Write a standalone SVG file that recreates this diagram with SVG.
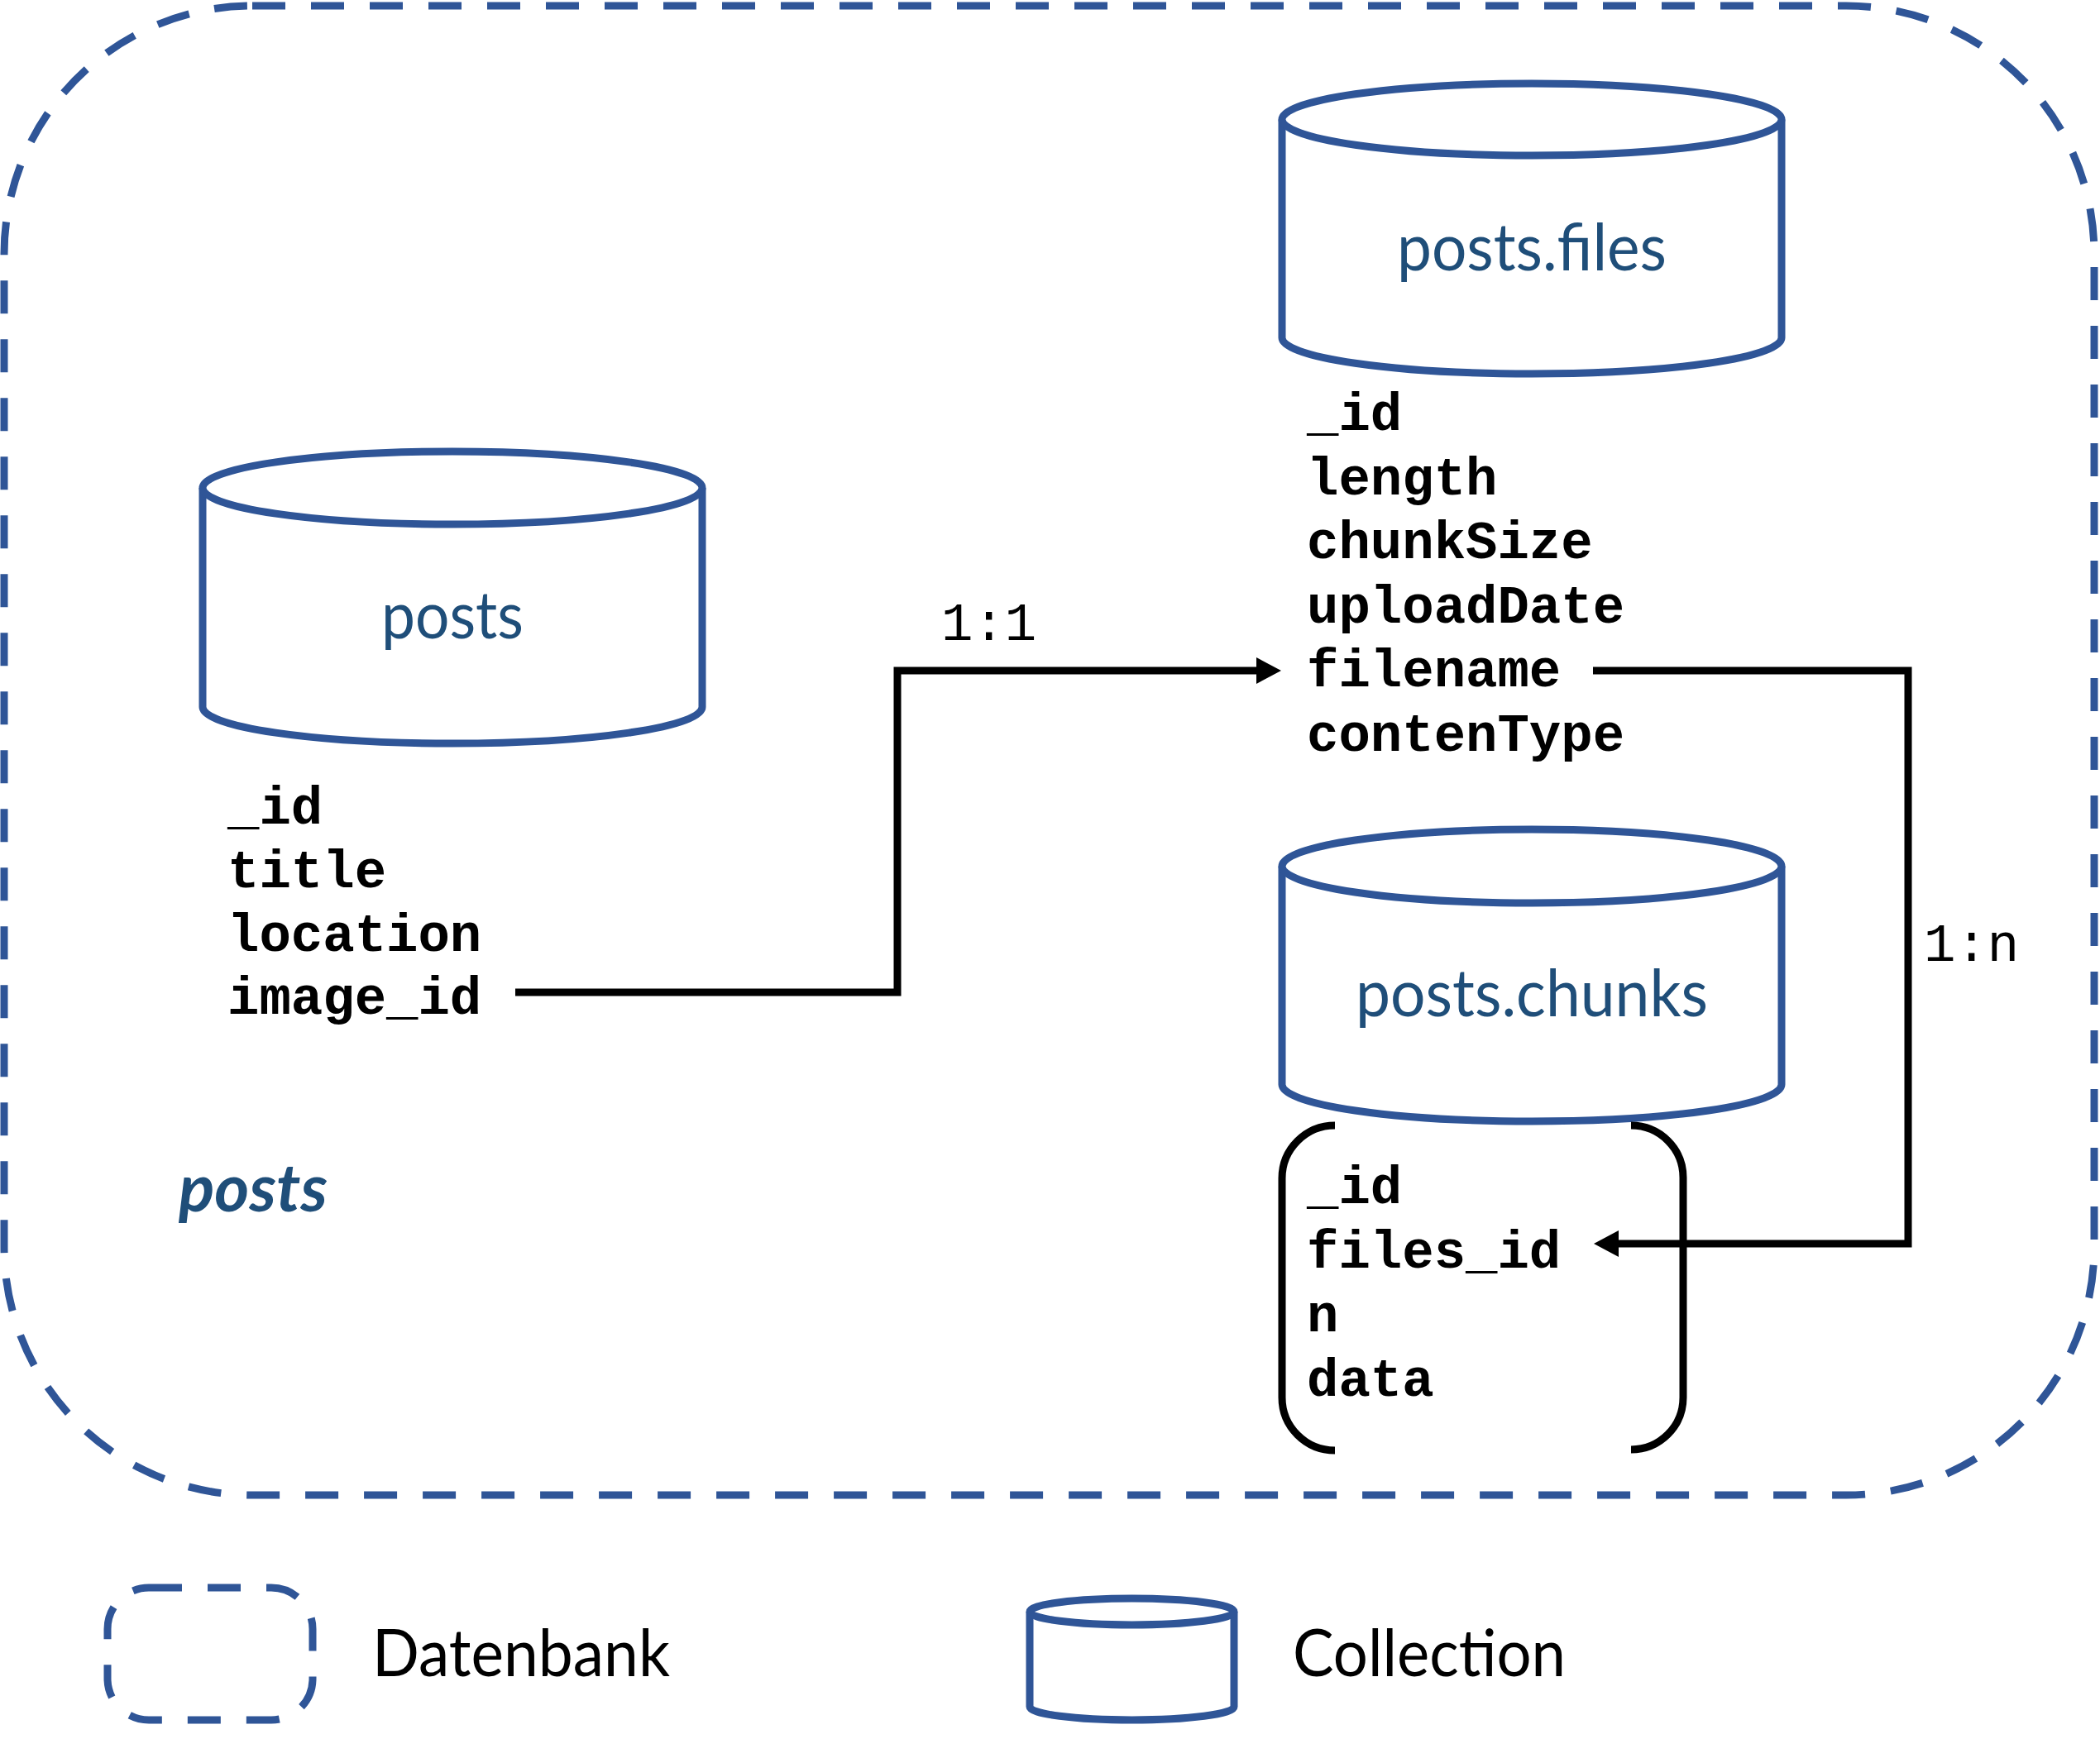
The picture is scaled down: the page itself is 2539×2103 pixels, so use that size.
<svg xmlns="http://www.w3.org/2000/svg" width="2539" height="2103" viewBox="0 0 2539 2103">
<style>
.db{fill:none;stroke:#2F5597;stroke-width:9;stroke-dasharray:40 31}
.cyl{fill:#FFFFFF;stroke:#2F5597;stroke-width:9}
.cname{font-family:Lato,"Open Sans","Liberation Sans",sans-serif;font-size:80px;fill:#1F4E79;text-anchor:middle}
.fld{font-family:"Liberation Mono","DejaVu Sans Mono",monospace;font-weight:bold;font-size:64px;fill:#000000}
.rel{font-family:"Liberation Mono","DejaVu Sans Mono",monospace;font-size:64px;fill:#000000}
.conn{fill:none;stroke:#000000;stroke-width:9;stroke-linejoin:miter}
.brk{fill:none;stroke:#000000;stroke-width:9}
.leg{font-family:Lato,"Open Sans","Liberation Sans",sans-serif;font-size:80px;fill:#000000}
</style>
<defs>
<marker id="arr" markerUnits="userSpaceOnUse" markerWidth="30" markerHeight="32" refX="0" refY="16" orient="auto" viewBox="0 0 30 32">
<path d="M0,0 L30,16 L0,32 Z" fill="#000000"/>
</marker>
</defs>

<g id="database">
<rect class="db" x="5" y="7" width="2527" height="1801" rx="300" ry="300"/>
<text x="216" y="1465" font-family="Lato,'Open Sans','Liberation Sans',sans-serif" font-size="80" font-weight="bold" font-style="italic" fill="#1F4E79" textLength="180" lengthAdjust="spacingAndGlyphs">posts</text>
</g>

<g id="posts">
<path class="cyl" d="M245,590 L245,855 A302,44 0 0 0 849,855 L849,590"/>
<ellipse class="cyl" cx="547" cy="590" rx="302" ry="44"/>
<text class="cname" x="547" y="772" textLength="172" lengthAdjust="spacingAndGlyphs">posts</text>
<text class="fld" x="275" y="996">_id</text>
<text class="fld" x="275" y="1073">title</text>
<text class="fld" x="275" y="1150">location</text>
<text class="fld" x="275" y="1226">image_id</text>
</g>

<g id="posts-files">
<path class="cyl" d="M1550,144.5 L1550,408.5 A302,43.5 0 0 0 2154,408.5 L2154,144.5"/>
<ellipse class="cyl" cx="1852" cy="144.5" rx="302" ry="43.5"/>
<text class="cname" x="1852" y="327" textLength="326" lengthAdjust="spacingAndGlyphs">posts.files</text>
<text class="fld" x="1580" y="520">_id</text>
<text class="fld" x="1580" y="598">length</text>
<text class="fld" x="1580" y="675">chunkSize</text>
<text class="fld" x="1580" y="753">uploadDate</text>
<text class="fld" x="1580" y="830">filename</text>
<text class="fld" x="1580" y="908">contenType</text>
</g>

<g id="posts-chunks">
<path class="cyl" d="M1550,1047.5 L1550,1311.5 A302,44.5 0 0 0 2154,1311.5 L2154,1047.5"/>
<ellipse class="cyl" cx="1852" cy="1047.5" rx="302" ry="44.5"/>
<text class="cname" x="1852" y="1229" textLength="426" lengthAdjust="spacingAndGlyphs">posts.chunks</text>
<path class="brk" d="M1614,1361 A64,64 0 0 0 1550,1425 L1550,1690 A64,64 0 0 0 1614,1754"/>
<path class="brk" d="M1972,1361 A63,63 0 0 1 2035,1424 L2035,1690 A63,63 0 0 1 1972,1753"/>
<text class="fld" x="1580" y="1455">_id</text>
<text class="fld" x="1580" y="1533">files_id</text>
<text class="fld" x="1580" y="1610">n</text>
<text class="fld" x="1580" y="1688">data</text>
</g>

<g id="connectors">
<path class="conn" d="M623,1200 L1085,1200 L1085,811 L1519,811" marker-end="url(#arr)"/>
<text class="rel" x="1138" y="774">1:1</text>
<path class="conn" d="M1926,811 L2307,811 L2307,1504 L1957,1504" marker-end="url(#arr)"/>
<text class="rel" x="2326" y="1162">1:n</text>
</g>

<g id="legend-datenbank">
<rect class="db" x="130" y="1920" width="248" height="160" rx="50" ry="50"/>
<text class="leg" x="450" y="2027" textLength="360" lengthAdjust="spacingAndGlyphs">Datenbank</text>
</g>

<g id="legend-collection">
<path class="cyl" d="M1245,1949 L1245,2064 A123.5,16 0 0 0 1492,2064 L1492,1949"/>
<ellipse class="cyl" cx="1368.5" cy="1949" rx="123.5" ry="16"/>
<text class="leg" x="1563" y="2027" textLength="330" lengthAdjust="spacingAndGlyphs">Collection</text>
</g>
</svg>
